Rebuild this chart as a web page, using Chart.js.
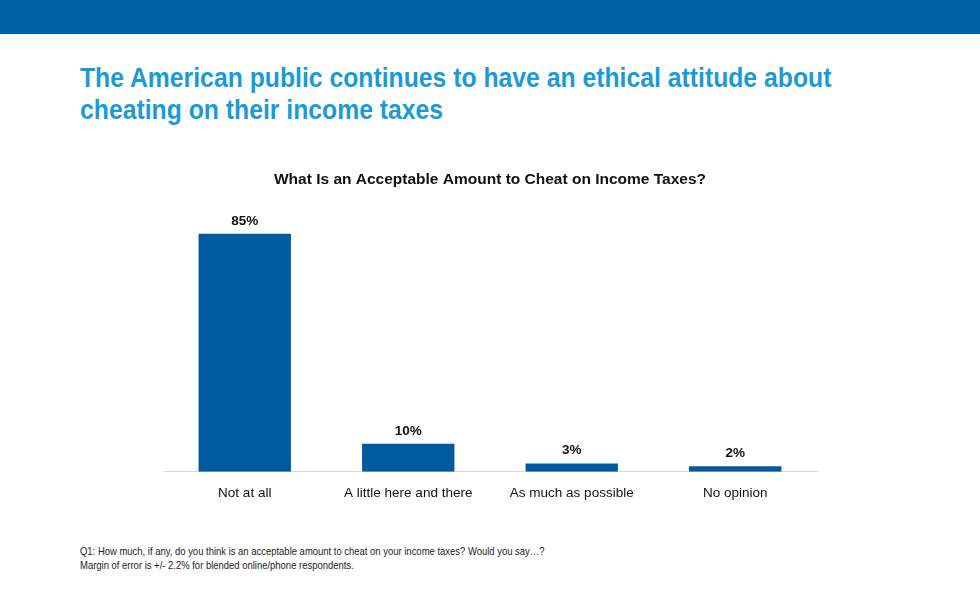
<!DOCTYPE html>
<html>
<head>
<meta charset="utf-8">
<script src="https://cdn.jsdelivr.net/npm/chart.js@4"></script>
<style>
  body { margin: 0; background: #fff; font-family: "Liberation Sans", Arial, sans-serif; }
  #page { position: relative; width: 980px; height: 600px; overflow: hidden; }
  #band { position: absolute; left: 0; top: 0; width: 980px; height: 34px; background: #0063a3; }
  #headline { position: absolute; left: 80px; top: 62px; margin: 0; font-size: 28px; line-height: 32px; font-weight: bold; color: #1a9bd7; white-space: nowrap; transform: scaleX(0.884); transform-origin: left top; }
  #wrap { position: absolute; left: 0; top: 150px; width: 980px; height: 370px; }
  #notes { position: absolute; left: 80px; top: 544px; font-size: 11px; line-height: 14px; color: #222; white-space: nowrap; transform: scaleX(0.86); transform-origin: left top; }
</style>
</head>
<body>
<div id="page">
  <div id="band"></div>
  <h1 id="headline">The American public continues to have an ethical attitude about<br>cheating on their income taxes</h1>
  <div id="wrap"><canvas id="chart"></canvas></div>
  <div id="notes">Q1: How much, if any, do you think is an acceptable amount to cheat on your income taxes? Would you say…?<br>Margin of error is +/- 2.2% for blended online/phone respondents.</div>
</div>
<script>
const categories = ["Not at all", "A little here and there", "As much as possible", "No opinion"];
const shares = [85, 10, 3, 2];

const FONT = "'Liberation Sans', Arial, sans-serif";

// draws the % value above each bar
const valueLabels = {
  id: "valueLabels",
  afterDatasetsDraw(chart) {
    const ctx = chart.ctx;
    const meta = chart.getDatasetMeta(0);
    ctx.save();
    ctx.font = "bold 13.5px " + FONT;
    ctx.fillStyle = "#111";
    ctx.textAlign = "center";
    ctx.textBaseline = "bottom";
    meta.data.forEach((bar, i) => {
      ctx.fillText(shares[i] + "%", bar.x, bar.y - 6);
    });
    ctx.restore();
  }
};

new Chart(document.getElementById("chart"), {
  type: "bar",
  data: {
    labels: categories,
    datasets: [{
      data: shares,
      backgroundColor: "#005a9f",
      categoryPercentage: 1,
      barPercentage: 0.565
    }]
  },
  options: {
    responsive: true,
    maintainAspectRatio: false,
    animation: false,
    layout: { padding: { left: 163, right: 163, top: 0, bottom: 6 } },
    plugins: {
      legend: { display: false },
      tooltip: { enabled: false },
      title: {
        display: true,
        text: "What Is an Acceptable Amount to Cheat on Income Taxes?",
        color: "#111",
        font: { family: FONT, size: 15.5, weight: "bold" },
        padding: { top: 20, bottom: 3 }
      }
    },
    scales: {
      x: {
        grid: { display: false, drawTicks: false },
        border: { display: true, color: "#d9d9d9", width: 1 },
        ticks: { color: "#111", font: { family: FONT, size: 13.5 }, padding: 13 }
      },
      y: {
        display: false,
        min: 0,
        max: 100
      }
    }
  },
  plugins: [valueLabels]
});
</script>
</body>
</html>
